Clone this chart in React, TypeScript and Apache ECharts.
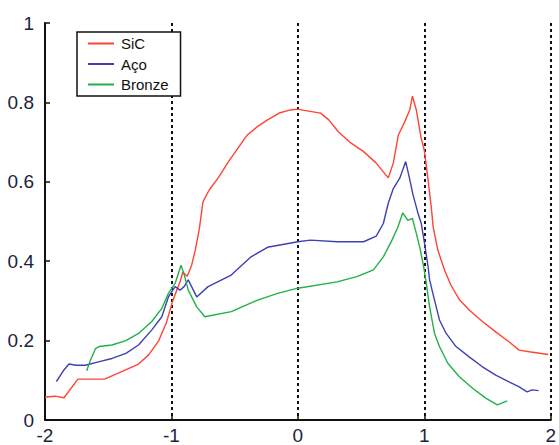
import React, { useEffect, useRef } from "react";
import * as echarts from "echarts";

// Measured profiles: position along the specimen (x) and normalized response (y)
const sicX = [-2.0, -1.92, -1.85, -1.74, -1.53, -1.42, -1.26, -1.18, -1.1, -1.04, -0.99, -0.93, -0.91, -0.875, -0.84, -0.81, -0.78, -0.75, -0.7, -0.63, -0.55, -0.475, -0.4, -0.32, -0.24, -0.14, -0.06, 0.0, 0.05, 0.18, 0.245, 0.32, 0.41, 0.52, 0.62, 0.715, 0.755, 0.795, 0.845, 0.885, 0.906, 0.937, 0.976, 1.0, 1.03, 1.055, 1.07, 1.107, 1.16, 1.21, 1.28, 1.355, 1.46, 1.565, 1.67, 1.75, 1.83, 1.98];
const sicY = [0.058, 0.06, 0.056, 0.103, 0.103, 0.118, 0.141, 0.164, 0.2, 0.245, 0.3, 0.35, 0.372, 0.362, 0.39, 0.43, 0.48, 0.55, 0.58, 0.61, 0.65, 0.684, 0.718, 0.739, 0.756, 0.774, 0.781, 0.783, 0.78, 0.773, 0.756, 0.726, 0.7, 0.676, 0.647, 0.61, 0.647, 0.718, 0.751, 0.781, 0.816, 0.781, 0.709, 0.68, 0.605, 0.537, 0.487, 0.428, 0.378, 0.34, 0.302, 0.277, 0.248, 0.222, 0.197, 0.176, 0.172, 0.165];

const acoX = [-1.91, -1.85, -1.81, -1.755, -1.68, -1.57, -1.47, -1.36, -1.26, -1.155, -1.076, -1.024, -0.971, -0.932, -0.9, -0.867, -0.8, -0.71, -0.527, -0.37, -0.24, 0.0, 0.1, 0.31, 0.52, 0.62, 0.676, 0.715, 0.755, 0.806, 0.853, 0.88, 0.911, 0.951, 0.976, 1.002, 1.03, 1.042, 1.081, 1.12, 1.173, 1.251, 1.355, 1.46, 1.565, 1.67, 1.747, 1.813, 1.853, 1.904];
const acoY = [0.097, 0.126, 0.141, 0.138, 0.138, 0.147, 0.155, 0.168, 0.189, 0.227, 0.26, 0.31, 0.336, 0.327, 0.336, 0.353, 0.31, 0.336, 0.365, 0.411, 0.435, 0.449, 0.453, 0.449, 0.449, 0.463, 0.495, 0.546, 0.583, 0.609, 0.651, 0.613, 0.567, 0.52, 0.495, 0.445, 0.386, 0.353, 0.302, 0.252, 0.218, 0.185, 0.159, 0.134, 0.113, 0.096, 0.084, 0.071, 0.076, 0.074];

const bronzeX = [-1.67, -1.64, -1.6, -1.573, -1.47, -1.36, -1.26, -1.155, -1.076, -1.024, -0.971, -0.924, -0.898, -0.867, -0.8, -0.736, -0.527, -0.318, -0.16, 0.0, 0.31, 0.467, 0.598, 0.676, 0.74, 0.79, 0.83, 0.87, 0.906, 0.937, 0.969, 0.995, 1.016, 1.042, 1.081, 1.12, 1.186, 1.277, 1.382, 1.486, 1.578, 1.656];
const bronzeY = [0.124, 0.151, 0.18, 0.185, 0.189, 0.2, 0.218, 0.248, 0.281, 0.319, 0.344, 0.39, 0.365, 0.327, 0.285, 0.26, 0.273, 0.302, 0.319, 0.332, 0.348, 0.361, 0.378, 0.411, 0.45, 0.485, 0.522, 0.503, 0.508, 0.47, 0.428, 0.386, 0.344, 0.285, 0.218, 0.185, 0.143, 0.109, 0.08, 0.055, 0.038, 0.048];

const seriesNames = ["SiC", "Aço", "Bronze"];
const seriesColors = ["#ff4433", "#4040b4", "#22b04a"];

const zip = (xs: number[], ys: number[]) => xs.map((x, i) => [x, ys[i]]);

export default function App() {
  const ref = useRef<HTMLDivElement>(null);

  useEffect(() => {
    if (!ref.current) return;
    const chart = echarts.init(ref.current, null, { renderer: "svg" });
    const labelStyle = {
      fontFamily: "Liberation Sans",
      fontSize: 19,
      color: "#1a2340",
    };
    const axisLine = { show: true, onZero: false, lineStyle: { color: "#111", width: 2 } };
    const data = [zip(sicX, sicY), zip(acoX, acoY), zip(bronzeX, bronzeY)];

    chart.setOption({
      animation: false,
      backgroundColor: "#ffffff",
      grid: { left: 45, right: 4, top: 23, bottom: 25 },
      legend: {
        data: seriesNames,
        orient: "vertical",
        left: 77,
        top: 32,
        itemWidth: 26,
        itemHeight: 14,
        itemGap: 5.5,
        padding: [4, 12, 4, 10],
        borderColor: "#111",
        borderWidth: 1.5,
        backgroundColor: "#fff",
        itemStyle: { opacity: 0 },
        textStyle: {
          fontFamily: "Liberation Sans",
          fontSize: 15,
          color: "#111",
          padding: [0, 0, 0, 2],
        },
      },
      xAxis: {
        type: "value",
        min: -2,
        max: 2,
        interval: 1,
        axisLine,
        axisTick: { show: true, inside: true, length: 5, lineStyle: { color: "#111", width: 1.5 } },
        axisLabel: { ...labelStyle, margin: 6 },
        splitLine: {
          show: true,
          lineStyle: { color: "#111", width: 2, type: [3, 3] },
        },
      },
      yAxis: {
        type: "value",
        min: 0,
        max: 1,
        interval: 0.2,
        axisLine,
        axisTick: { show: true, inside: true, length: 5, lineStyle: { color: "#111", width: 1.5 } },
        axisLabel: { ...labelStyle, margin: 11 },
        splitLine: { show: false },
      },
      series: seriesNames.map((name, i) => ({
        name,
        type: "line",
        data: data[i],
        symbol: "none",
        color: seriesColors[i],
        lineStyle: { color: seriesColors[i], width: 1.4 },
        z: 3,
      })),
    });

    return () => chart.dispose();
  }, []);

  return (
    <div
      ref={ref}
      style={{ position: "fixed", left: 0, top: 0, width: 559, height: 445, background: "#fff" }}
    />
  );
}
